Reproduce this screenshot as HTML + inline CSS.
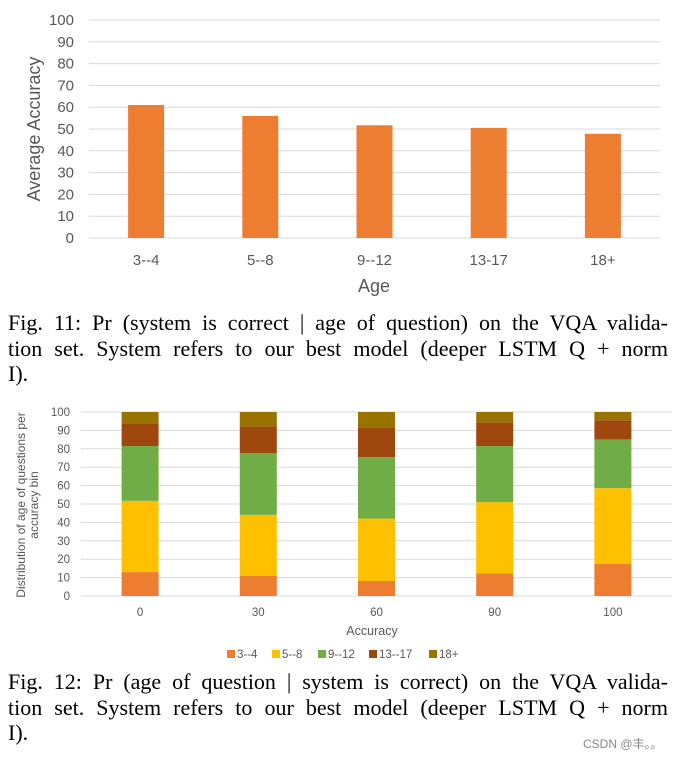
<!DOCTYPE html>
<html><head><meta charset="utf-8"><style>
body{margin:0;background:#fff;width:690px;height:758px;overflow:hidden;position:relative}
svg{position:absolute;left:0;top:0}
.cap{position:absolute;left:8px;width:660px;font-family:"Liberation Serif",serif;font-size:22px;line-height:25.5px;color:#000}
.cap div{text-align:justify;text-align-last:justify;white-space:nowrap}
.cap div.last{text-align-last:left}
.wm{position:absolute;left:583px;top:735px;font-family:"Liberation Sans","Noto Sans CJK SC",sans-serif;font-size:12px;color:#888}
</style></head><body>
<svg width="690" height="758" font-family="Liberation Sans, sans-serif">
<g id="c1"></g>
<g id="c2"></g>
</svg>
<div class="cap" style="top:310px"><div>Fig. 11: Pr (system is correct | age of question) on the VQA valida-</div><div>tion set. System refers to our best model (deeper LSTM Q + norm</div><div class="last">I).</div></div>
<div class="cap" style="top:669px"><div>Fig. 12: Pr (age of question | system is correct) on the VQA valida-</div><div>tion set. System refers to our best model (deeper LSTM Q + norm</div><div class="last">I).</div></div>
<div class="wm">CSDN @丰。。</div>
<script>
const ageCats=["3--4","5--8","9--12","13-17","18+"];
const avgAcc=[61,56,51.7,50.5,47.8];
const yTicks=[0,10,20,30,40,50,60,70,80,90,100];
const accCats=["0","30","60","90","100"];
const seriesNames=["3--4","5--8","9--12","13--17","18+"];
const s34=[13,10.9,8.2,12.3,17.4];
const s58=[38.7,33.2,33.9,38.7,41.2];
const s912=[29.8,33.6,33.4,30.5,26.5];
const s1317=[12.3,14.5,16.2,12.9,10.4];
const s18=[6.2,7.8,8.3,5.6,4.5];
const NS="http://www.w3.org/2000/svg";
const colors=["#ED7D31","#FFC000","#70AD47","#9E480E","#997300"];
function mk(p,t,a){const e=document.createElementNS(NS,t);for(const k in a)e.setAttribute(k,a[k]);p.appendChild(e);return e;}
(function(){
const g=document.getElementById('c1');
const x0=89,x1=660,y0=238,y1=20;
const y=v=>y0-(v/100)*(y0-y1);
const bw=(x1-x0)/ageCats.length;
yTicks.forEach(t=>{
 const l=mk(g,'line',{x1:x0,x2:x1,y1:y(t),y2:y(t),stroke:'#d9d9d9','stroke-width':1});
 
 
 const tx=mk(g,'text',{x:74,y:y(t)+5,'text-anchor':'end','font-size':15,fill:'#595959'});
 tx.textContent=t;
 
 
});
ageCats.forEach((c,i)=>{
 const cx=x0+bw*(i+0.5);
 const r=mk(g,'rect',{x:cx-18,y:y(avgAcc[i]),width:36,height:y0-y(avgAcc[i]),fill:'#ED7D31'});
 
 
 const t=mk(g,'text',{x:cx,y:265,'text-anchor':'middle','font-size':15,fill:'#595959'});
 t.textContent=c;
 
 
});
const xt=mk(g,'text',{x:374,y:292,'text-anchor':'middle','font-size':18,fill:'#595959'});xt.textContent='Age';


const yt=mk(g,'text',{x:0,y:0,transform:'translate(40,129) rotate(-90)','text-anchor':'middle','font-size':18,fill:'#595959'});yt.textContent='Average Accuracy';


})();
(function(){
const g=document.getElementById('c2');
const x0=81,x1=672,y0=596,y1=412;
const y=v=>y0-(v/100)*(y0-y1);
const bw=(x1-x0)/accCats.length;
yTicks.forEach(t=>{
 const l=mk(g,'line',{x1:x0,x2:x1,y1:y(t),y2:y(t),stroke:'#d9d9d9','stroke-width':1});
 
 
 const tx=mk(g,'text',{x:70,y:y(t)+4,'text-anchor':'end','font-size':11.5,fill:'#595959'});
 tx.textContent=t;
 
 
});
const series=[s34,s58,s912,s1317,s18];
accCats.forEach((c,i)=>{
 const cx=x0+bw*(i+0.5);
 let acc=0;
 series.forEach((s,k)=>{
  const r=mk(g,'rect',{x:cx-18.5,y:y(acc+s[i]),width:37,height:y(acc)-y(acc+s[i]),fill:colors[k]});
  
  
  acc+=s[i];
 });
 const t=mk(g,'text',{x:cx,y:616,'text-anchor':'middle','font-size':11.5,fill:'#595959'});
 t.textContent=c;
 
 
});
const xt=mk(g,'text',{x:372,y:635,'text-anchor':'middle','font-size':12.5,fill:'#595959'});xt.textContent='Accuracy';


const yt=mk(g,'text',{x:0,y:0,transform:'translate(25,505) rotate(-90)','text-anchor':'middle','font-size':12,fill:'#595959'});yt.textContent='Distribution of age of questions per';


const yt2=mk(g,'text',{x:0,y:0,transform:'translate(38,505) rotate(-90)','text-anchor':'middle','font-size':12,fill:'#595959'});yt2.textContent='accuracy bin';


const lx=[227,272,318,369,429];
seriesNames.forEach((n,k)=>{
 const r=mk(g,'rect',{x:lx[k],y:650,width:8,height:8,fill:colors[k]});
 
 
 const t=mk(g,'text',{x:lx[k]+10,y:658,'font-size':11.5,fill:'#595959'});
 t.textContent=n;
 
 
});
})();
</script>
</body></html>
